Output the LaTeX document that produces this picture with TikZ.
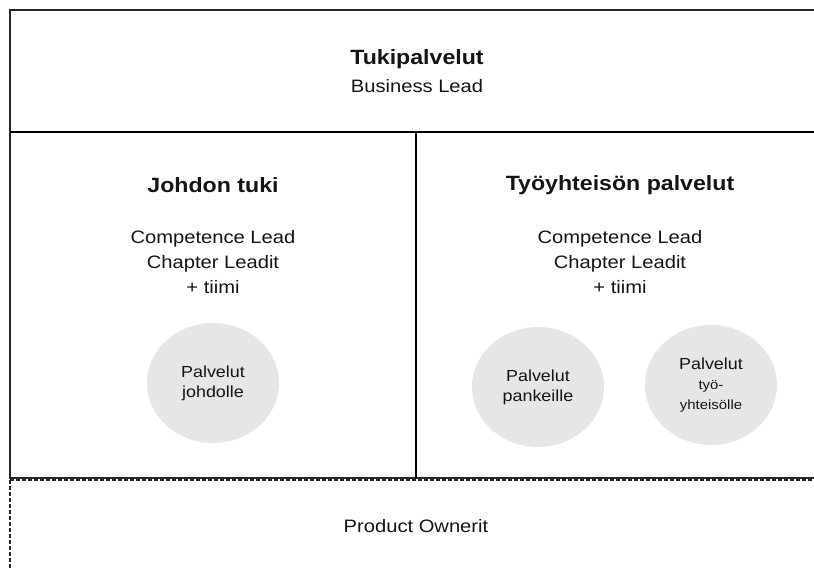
\documentclass[tikz,border=0pt]{standalone}
\usepackage{xcolor}
\usepackage{fontspec}
\setmainfont{Liberation Sans}[FakeStretch=1.12]
\usepackage{tikz}
\usetikzlibrary{shapes.geometric}

\definecolor{circlegray}{RGB}{230,230,230}
\definecolor{textdark}{RGB}{20,20,20}

\tikzset{
  frame/.style={draw=black!85, line width=0.8pt},
  divider/.style={draw=black, line width=1.2pt},
  headtext/.style={inner sep=0.75pt, align=center, text=textdark, font=\fontsize{15.5}{19}\selectfont\bfseries},
  bodytext/.style={inner sep=0.75pt, align=center, text=textdark, font=\fontsize{13.5}{18.5}\selectfont},
  service/.style={ellipse, fill=circlegray, draw=none, minimum width=99pt, minimum height=90pt, inner sep=0pt, align=center, text=textdark, font=\fontsize{12}{15}\selectfont}
}

\begin{document}
\begin{tikzpicture}[x=0.75pt,y=0.75pt,yscale=-1,xscale=1]
\clip (0,0) rectangle (814,570);

%Shape: Rectangle [top]
\draw [frame] (10,10) rectangle (826,132) ;
%Shape: Rectangle [left]
\draw [frame] (10,132) rectangle (416,478) ;
%Shape: Rectangle [right]
\draw [frame] (416,132) rectangle (826,478) ;
%Straight Lines [dividers]
\draw [divider] (10,132) -- (826,132) ;
\draw [divider] (416,132) -- (416,478) ;
%Shape: Rectangle [dashed]
\draw [frame, dash pattern={on 3pt off 1.5pt}] (10,480) rectangle (826,620) ;

%Shape: Ellipse
\node [service] (johdolle) at (213,383) {Palvelut\\johdolle};
%Shape: Ellipse
\node [service] (pankeille) at (538,387) {Palvelut\\pankeille};
%Shape: Ellipse
\node [service] (tyoyht) at (711,385) {Palvelut\\{\fontsize{10}{14}\selectfont työ-}\\{\fontsize{10}{14}\selectfont yhteisölle}};

% Text Node
\node [headtext] (tuki) at (417,59) {Tukipalvelut};
% Text Node
\node [bodytext] (business) at (417,86) {Business Lead};
% Text Node
\node [headtext] (johdon) at (213,185) {Johdon tuki};
% Text Node
\node [headtext] (tyoyhteiso) at (620,185) {Työyhteisön palvelut};
% Text Node
\node [bodytext] (leadsleft) at (213,262) {Competence Lead\\Chapter Leadit\\+ tiimi};
% Text Node
\node [bodytext] (leadsright) at (620,262) {Competence Lead\\Chapter Leadit\\+ tiimi};
% Text Node
\node [bodytext] (owners) at (416,526) {Product Ownerit};

\end{tikzpicture}
\end{document}
